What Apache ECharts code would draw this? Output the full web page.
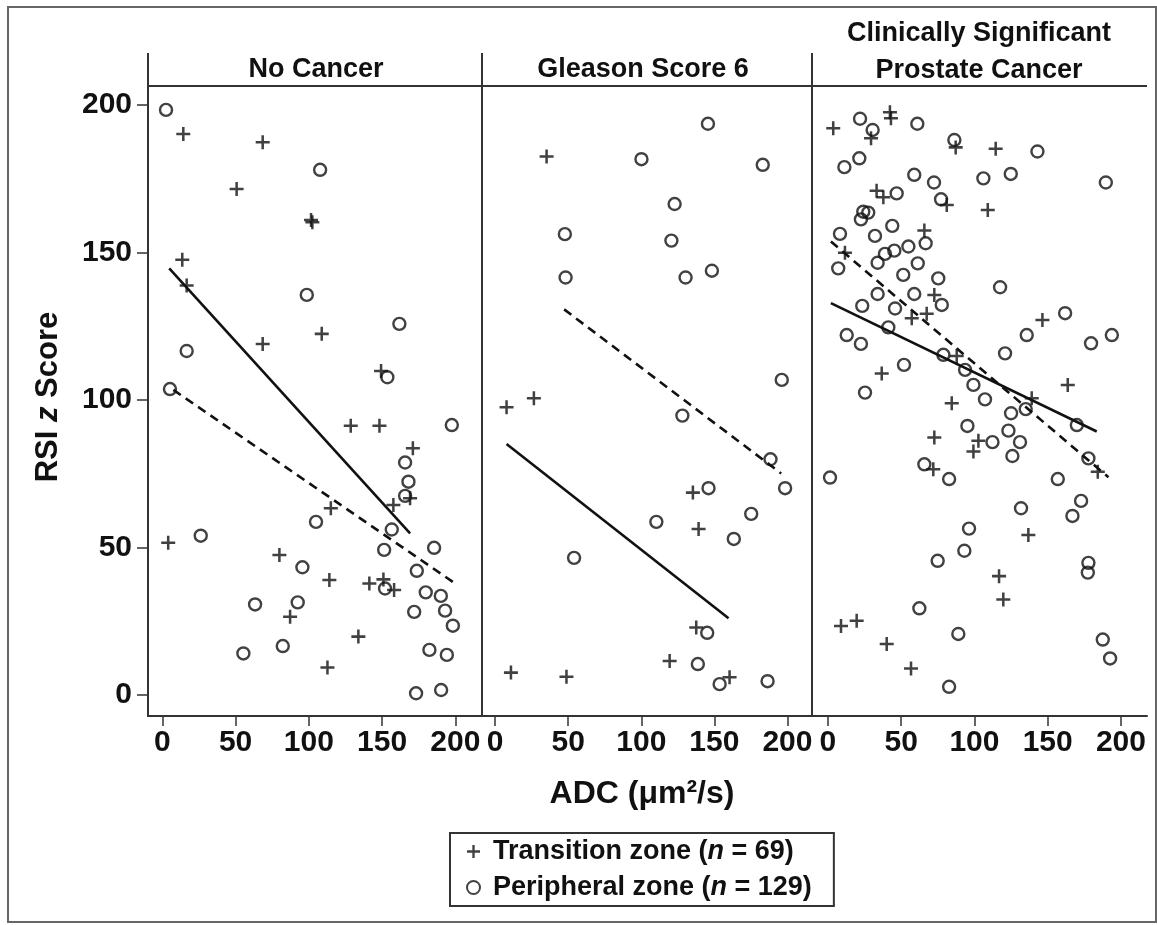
<!DOCTYPE html>
<html lang="en">
<head>
  <meta charset="UTF-8">
  <title>RSI z score vs ADC</title>
  <script src="https://cdn.jsdelivr.net/npm/echarts@6.0.0/dist/echarts.min.js"></script>
  <style>
    html, body { margin: 0; padding: 0; background: #fff; }
  </style>
</head>
<body>
<div id="main" style="width: 1157px; height: 925px;"></div>
<script>
  // panel titles and tick labels
  const panelTitles = ['No Cancer', 'Gleason Score 6', 'Clinically Significant\nProstate Cancer']
  const xTicks = [0, 50, 100, 150, 200]
  const yTicks = [0, 50, 100, 150, 200]
  const tzName = 'Transition zone (n = 69)'
  const pzName = 'Peripheral zone (n = 129)'

  // No cancer
  const noCancerTZ = [[14.3,190.1],[68.5,187.3],[50.7,171.5],[102.4,160.2],[101.5,161],[13.6,147.5],[16.6,138.8],
    [108.8,122.4],[68.5,119],[149.3,109.8],[128.6,91.3],[148.2,91.3],[171,83.6],[169.1,66.7],[157.7,64.4],
    [115,63.3],[4,51.6],[79.9,47.5],[114,39],[141.3,37.8],[150.9,39.2],[158.2,35.6],[87.2,26.5],[133.8,19.8],[112.7,9.3]]
  const noCancerPZ = [[2.5,198.3],[107.7,178],[98.6,135.6],[161.8,125.8],[16.6,116.6],[153.6,107.7],[5.2,103.7],
    [197.6,91.5],[165.7,78.8],[168,72.3],[165.7,67.5],[104.9,58.7],[156.6,56.1],[26.2,54],[185.5,49.9],[151.4,49.2],
    [95.6,43.3],[173.7,42.1],[152,36.1],[179.8,34.8],[190.1,33.6],[63.3,30.7],[92.4,31.4],[193,28.6],[171.9,28.2],
    [198.3,23.5],[82.2,16.6],[55.3,14.1],[182.3,15.3],[194.2,13.6],[173.2,0.6],[190.3,1.7]]
  const noCancerFitTZ = [[4.7,144.6],[169.1,54.8]]
  const noCancerFitPZ = [[7.5,103.4],[198.7,38.2]]

  // Gleason score 6
  const gleasonTZ = [[35.2,182.5],[7.8,97.5],[26.5,100.6],[135.3,68.6],[139.2,56.3],[137.6,22.9],[119.4,11.5],
    [10.8,7.6],[48.8,6.2],[160.4,6]]
  const gleasonPZ = [[145.6,193.6],[100.1,181.6],[183.1,179.7],[122.8,166.4],[47.7,156.2],[120.6,154],[148.3,143.8],
    [48.2,141.5],[130.3,141.5],[196.1,106.8],[128.1,94.7],[188.4,79.9],[198.4,70.1],[146,70.1],[175.2,61.4],
    [110.3,58.7],[163.3,52.9],[54,46.5],[145.1,21.1],[138.7,10.5],[153.6,3.7],[186.4,4.7]]
  const gleasonFitTZ = [[7.8,85.1],[159.7,26]]
  const gleasonFitPZ = [[47.2,130.7],[195.7,75.1]]

  // Clinically significant prostate cancer
  const csPcaTZ = [[3.6,192.1],[42.3,197.5],[43,195.5],[29.4,188.7],[87.2,185.6],[114.5,185.1],[33.2,170.9],
    [37.8,168.7],[81.1,166.1],[109.1,164.4],[65.8,157.4],[11.6,149.9],[72.6,135.6],[57.2,127.7],[67.4,129.2],
    [146.4,127.1],[87.9,114.9],[36.7,109],[84.5,98.9],[139.1,100.6],[163.7,105.1],[72.6,87.3],[102.7,86.2],
    [99.3,82.5],[184.2,75.7],[71.9,76.5],[136.8,54.2],[116.8,40.3],[119.7,32.4],[8.9,23.4],[19.6,25.2],[40.1,17.3],[56.7,9]]
  const csPcaPZ = [[21.9,195.3],[30.5,191.5],[61,193.6],[86.3,188.1],[143,184.2],[11.2,178.9],[21.4,181.9],
    [58.9,176.3],[72.4,173.7],[106.1,175.1],[124.8,176.6],[189.7,173.7],[46.9,170],[77.2,168],[24.1,163.8],
    [27.5,163.5],[22.5,161.2],[8.2,156.3],[32.1,155.6],[43.9,159],[66.7,153.1],[54.9,152],[45.3,150.6],[38.9,149.5],
    [33.9,146.5],[7,144.6],[61.3,146.3],[51.4,142.4],[75.3,141.2],[117.5,138.2],[33.9,135.9],[58.9,135.9],
    [77.7,132.2],[23.4,131.9],[45.8,131],[161.9,129.4],[41.2,124.6],[12.8,122],[22.5,119],[135.7,122],
    [179.6,119.2],[193.8,122],[78.8,115.3],[120.9,115.8],[93.6,110.2],[51.9,111.9],[25.3,102.5],[99.3,105.1],
    [107.2,100.2],[135,96.9],[125,95.5],[169.9,91.5],[95.2,91.2],[123.2,89.6],[112.3,85.7],[131.1,85.7],[125.9,81],
    [177.8,80.2],[65.8,78.2],[82.7,73.2],[1.4,73.7],[156.9,73.2],[172.8,65.8],[166.9,60.7],[131.8,63.3],[96.3,56.4],
    [93.1,48.9],[74.9,45.5],[177.8,44.8],[177.4,41.5],[62.4,29.4],[89,20.7],[187.6,18.8],[192.6,12.4],[82.7,2.8]]
  const csPcaFitTZ = [[2,132.8],[183.5,89.3]]
  const csPcaFitPZ = [[2,153.7],[191.5,73.8]]

  const panels = [
    { tz: noCancerTZ, pz: noCancerPZ, fitTZ: noCancerFitTZ, fitPZ: noCancerFitPZ },
    { tz: gleasonTZ, pz: gleasonPZ, fitTZ: gleasonFitTZ, fitPZ: gleasonFitPZ },
    { tz: csPcaTZ, pz: csPcaPZ, fitTZ: csPcaFitTZ, fitPZ: csPcaFitPZ }
  ]

  const ink = '#111'
  const font = '"Liberation Sans", Arial, Helvetica, sans-serif'
  const plusPath = 'path://M4.1,0H5.9V4.1H10V5.9H5.9V10H4.1V5.9H0V4.1H4.1Z'

  // pixel layout of the three panels
  const grids = [
    { left: 148, width: 334, xMin: -9.8, xMax: 218.2 },
    { left: 482, width: 330, xMin: -9.0, xMax: 216.8 },
    { left: 812, width: 335, xMin: -10.9, xMax: 217.8 }
  ]

  const series = []
  panels.forEach((p, i) => {
    series.push({
      name: tzName, type: 'scatter', xAxisIndex: i, yAxisIndex: i,
      symbol: plusPath, symbolSize: 14,
      itemStyle: { color: ink, borderWidth: 0 },
      data: p.tz, z: 3
    })
    series.push({
      name: pzName, type: 'scatter', xAxisIndex: i, yAxisIndex: i,
      symbol: 'circle', symbolSize: 12,
      itemStyle: { color: 'transparent', borderColor: ink, borderWidth: 2.4 },
      data: p.pz, z: 3
    })
    series.push({
      name: 'fitTZ', type: 'line', xAxisIndex: i, yAxisIndex: i,
      symbol: 'none', lineStyle: { color: ink, width: 2.6 },
      data: p.fitTZ, z: 4
    })
    series.push({
      name: 'fitPZ', type: 'line', xAxisIndex: i, yAxisIndex: i,
      symbol: 'none', lineStyle: { color: ink, width: 2.6, type: [9, 6] },
      data: p.fitPZ, z: 4
    })
  })

  const myChart = echarts.init(document.getElementById('main'))
  const option = {
    backgroundColor: '#fff',
    animation: false,
    textStyle: { fontFamily: font },
    grid: grids.map(g => ({ left: g.left, width: g.width, top: 86, height: 630 })),
    xAxis: grids.map((g, i) => ({
      type: 'value', gridIndex: i, min: g.xMin, max: g.xMax,
      splitLine: { show: false },
      axisLine: { show: true, onZero: false, lineStyle: { color: '#333', width: 2 } },
      axisTick: { show: true, inside: false, length: 10, customValues: xTicks, lineStyle: { color: '#333', width: 1.5 } },
      axisLabel: {
        customValues: xTicks, margin: 12, color: ink, fontSize: 30, fontWeight: 'bold'
      },
      name: i === 1 ? 'ADC (μm²/s)' : '',
      nameLocation: 'middle', nameGap: 62,
      nameTextStyle: { color: ink, fontSize: 32, fontWeight: 'bold', padding: [0, 10, 0, 0] }
    })),
    yAxis: grids.map((g, i) => ({
      type: 'value', gridIndex: i, min: -7.1, max: 206.4,
      show: i === 0,
      splitLine: { show: false },
      axisLine: { show: true, onZero: false, lineStyle: { color: '#333', width: 2 } },
      axisTick: { show: true, inside: false, length: 11, customValues: yTicks, lineStyle: { color: '#333', width: 1.5 } },
      axisLabel: { customValues: yTicks, margin: 16, color: ink, fontSize: 30, fontWeight: 'bold' },
      name: i === 0 ? 'RSI {it|z} Score' : '',
      nameLocation: 'middle', nameGap: 84, nameRotate: 90,
      nameTextStyle: {
        color: ink, fontSize: 31, fontWeight: 'bold', padding: [0, 0, 0, 8],
        rich: { it: { fontStyle: 'italic', fontWeight: 'bold', fontSize: 31, color: ink } }
      }
    })),
    legend: {
      orient: 'vertical',
      left: 450, top: 833,
      padding: [5, 22, 5, 16],
      itemGap: 9,
      itemWidth: 13, itemHeight: 13,
      borderColor: '#333', borderWidth: 2, borderRadius: 0,
      data: [
        { name: tzName, icon: plusPath, itemStyle: { color: ink, borderWidth: 0 } },
        { name: pzName, icon: 'circle', itemStyle: { color: 'transparent', borderColor: ink, borderWidth: 2 } }
      ],
      formatter: name => name.replace('(n =', '({it|n} ='),
      textStyle: {
        color: ink, fontSize: 27, fontWeight: 'bold', padding: [0, 0, 0, 8],
        rich: { it: { fontStyle: 'italic', fontWeight: 'bold', fontSize: 27, color: ink } }
      }
    },
    graphic: [
      { type: 'rect', shape: { x: 8, y: 7, width: 1148, height: 915 }, style: { fill: 'none', stroke: '#666', lineWidth: 2 }, silent: true },
      { type: 'line', shape: { x1: 148, y1: 53, x2: 148, y2: 717 }, style: { stroke: '#333', lineWidth: 2 } },
      { type: 'line', shape: { x1: 482, y1: 53, x2: 482, y2: 717 }, style: { stroke: '#333', lineWidth: 2 } },
      { type: 'line', shape: { x1: 812, y1: 53, x2: 812, y2: 717 }, style: { stroke: '#333', lineWidth: 2 } },
      { type: 'line', shape: { x1: 148, y1: 86, x2: 1147, y2: 86 }, style: { stroke: '#333', lineWidth: 2 } },
      { type: 'text', x: 316, y: 70, style: { text: panelTitles[0], font: 'bold 27px ' + font, fill: ink, textAlign: 'center', textVerticalAlign: 'middle' } },
      { type: 'text', x: 643, y: 70, style: { text: panelTitles[1], font: 'bold 27px ' + font, fill: ink, textAlign: 'center', textVerticalAlign: 'middle' } },
      { type: 'text', x: 979, y: 52, style: { text: panelTitles[2], font: 'bold 27px ' + font, fill: ink, textAlign: 'center', textVerticalAlign: 'middle', lineHeight: 37 } }
    ],
    series
  }
  myChart.setOption(option)
</script>
</body>
</html>
